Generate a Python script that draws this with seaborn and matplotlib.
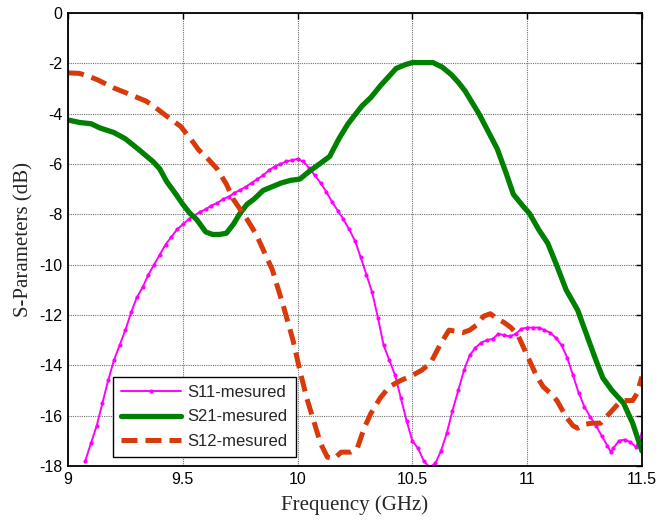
import numpy as np
import pandas as pd
import matplotlib
matplotlib.use("Agg")
import matplotlib.pyplot as plt
import seaborn as sns

# ---- data ----
s11_freq = [9.075, 9.100, 9.125, 9.150, 9.175, 9.200, 9.225, 9.250, 9.275, 9.300,
            9.325, 9.350, 9.375, 9.400, 9.425, 9.450, 9.475, 9.500, 9.525, 9.550,
            9.575, 9.600, 9.625, 9.650, 9.675, 9.700, 9.725, 9.750, 9.775, 9.800,
            9.825, 9.850, 9.875, 9.900, 9.925, 9.950, 9.975, 10.000, 10.025, 10.050,
            10.075, 10.100, 10.125, 10.150, 10.175, 10.200, 10.225, 10.250, 10.275, 10.300,
            10.325, 10.350, 10.375, 10.400, 10.425, 10.450, 10.475, 10.500, 10.525, 10.550,
            10.575, 10.600, 10.625, 10.650, 10.675, 10.700, 10.725, 10.750, 10.775, 10.800,
            10.825, 10.850, 10.875, 10.900, 10.925, 10.950, 10.975, 11.000, 11.025, 11.050,
            11.075, 11.100, 11.125, 11.150, 11.175, 11.200, 11.225, 11.250, 11.275, 11.300,
            11.325, 11.350, 11.365, 11.375, 11.400, 11.425, 11.450, 11.475, 11.500]
s11_db = [-17.8, -17.1, -16.4, -15.5, -14.6, -13.8, -13.2, -12.6, -11.9, -11.3,
          -10.9, -10.4, -10.0, -9.6, -9.2, -8.9, -8.6, -8.4, -8.2, -8.05,
          -7.9, -7.8, -7.65, -7.55, -7.4, -7.3, -7.15, -7.03, -6.9, -6.75,
          -6.6, -6.45, -6.25, -6.1, -6.0, -5.9, -5.85, -5.8, -5.9, -6.15,
          -6.45, -6.75, -7.1, -7.5, -7.85, -8.2, -8.6, -9.05, -9.7, -10.4,
          -11.1, -12.1, -13.2, -13.8, -14.4, -15.3, -16.2, -17.0, -17.3, -17.8,
          -18.05, -17.9, -17.4, -16.7, -15.8, -15.0, -14.2, -13.6, -13.3, -13.1,
          -13.0, -12.95, -12.75, -12.8, -12.85, -12.75, -12.55, -12.5, -12.5, -12.5,
          -12.6, -12.7, -12.9, -13.2, -13.7, -14.4, -15.1, -15.65, -16.05, -16.4,
          -16.8, -17.2, -17.45, -17.3, -17.0, -16.95, -17.05, -17.25, -16.7]

s21_freq = [9.0, 9.05, 9.1, 9.14, 9.2, 9.25, 9.31, 9.35, 9.37, 9.4,
            9.43, 9.47, 9.5, 9.53, 9.56, 9.6, 9.63, 9.66, 9.69, 9.72,
            9.75, 9.78, 9.81, 9.85, 9.89, 9.93, 9.97, 10.01, 10.05, 10.1,
            10.14, 10.18, 10.22, 10.25, 10.28, 10.32, 10.36, 10.4, 10.43, 10.47,
            10.5, 10.55, 10.59, 10.63, 10.67, 10.7, 10.73, 10.76, 10.79, 10.83,
            10.87, 10.91, 10.94, 10.98, 11.01, 11.05, 11.09, 11.13, 11.17, 11.22,
            11.26, 11.3, 11.33, 11.37, 11.42, 11.46, 11.5]
s21_db = [-4.25, -4.35, -4.4, -4.57, -4.75, -5.0, -5.44, -5.75, -5.9, -6.2,
          -6.7, -7.2, -7.6, -7.95, -8.2, -8.7, -8.8, -8.8, -8.75, -8.4,
          -7.95, -7.6, -7.4, -7.05, -6.9, -6.75, -6.65, -6.6, -6.3, -5.97,
          -5.7, -5.0, -4.4, -4.05, -3.7, -3.35, -2.9, -2.5, -2.2, -2.05,
          -1.97, -1.97, -1.97, -2.15, -2.45, -2.75, -3.1, -3.55, -4.0, -4.7,
          -5.4, -6.4, -7.2, -7.65, -7.96, -8.6, -9.15, -10.05, -11.0, -11.8,
          -12.8, -13.8, -14.5, -15.0, -15.5, -16.3, -17.4]

s12_freq = [9.0, 9.05, 9.1, 9.13, 9.2, 9.26, 9.3, 9.34, 9.38, 9.43,
            9.49, 9.53, 9.57, 9.61, 9.65, 9.69, 9.72, 9.78, 9.82, 9.85,
            9.89, 9.94, 9.98, 10.01, 10.04, 10.07, 10.1, 10.13, 10.16, 10.19,
            10.23, 10.26, 10.29, 10.32, 10.36, 10.4, 10.45, 10.5, 10.54, 10.58,
            10.62, 10.66, 10.69, 10.72, 10.75, 10.78, 10.81, 10.84, 10.87, 10.9,
            10.93, 10.96, 10.99, 11.01, 11.04, 11.07, 11.1, 11.13, 11.17, 11.2,
            11.22, 11.25, 11.28, 11.32, 11.35, 11.37, 11.4, 11.42, 11.46, 11.48,
            11.5]
s12_db = [-2.38, -2.4, -2.55, -2.66, -2.98, -3.2, -3.35, -3.5, -3.75, -4.1,
          -4.5, -4.95, -5.45, -5.8, -6.2, -6.8, -7.4, -8.2, -8.8, -9.4,
          -10.2, -11.7, -13.0, -14.2, -15.3, -16.2, -17.1, -17.65, -17.7, -17.45,
          -17.45, -17.3, -16.5, -15.9, -15.3, -14.85, -14.6, -14.4, -14.2, -13.9,
          -13.2, -12.6, -12.65, -12.7, -12.6, -12.4, -12.05, -11.95, -12.15, -12.3,
          -12.5, -12.8, -13.4, -13.8, -14.4, -14.85, -15.1, -15.4, -16.05, -16.4,
          -16.5, -16.35, -16.3, -16.3, -16.0, -15.8, -15.5, -15.4, -15.4, -15.1,
          -14.45]

x_ticks = [9, 9.5, 10, 10.5, 11, 11.5]
x_tick_labels = ["9", "9.5", "10", "10.5", "11", "11.5"]
y_ticks = [0, -2, -4, -6, -8, -10, -12, -14, -16, -18]

df11 = pd.DataFrame({"f": s11_freq, "db": s11_db})
df21 = pd.DataFrame({"f": s21_freq, "db": s21_db})
df12 = pd.DataFrame({"f": s12_freq, "db": s12_db})

sns.set_style("white")
plt.rcParams["font.family"] = ["Liberation Sans", "DejaVu Sans"]
plt.rcParams["axes.unicode_minus"] = False

fig = plt.figure(figsize=(6.59, 5.22), dpi=100)
ax = fig.add_axes([0.1032, 0.1073, 0.8708, 0.8678])

sns.lineplot(data=df11, x="f", y="db", ax=ax, color="#FF00FF", lw=1.4,
             marker="o", markersize=3, markeredgewidth=0, label="S11-mesured",
             sort=False, estimator=None)
sns.lineplot(data=df21, x="f", y="db", ax=ax, color="#008000", lw=3.8,
             label="S21-mesured", sort=False, estimator=None)
sns.lineplot(data=df12, x="f", y="db", ax=ax, color="#D93A0A", lw=3.6,
             label="S12-mesured", sort=False, estimator=None)
ax.lines[-1].set_dashes((3.2, 1.6))

ax.set_xlim(9, 11.5)
ax.set_ylim(-18, 0)
ax.set_xticks(x_ticks)
ax.set_xticklabels(x_tick_labels)
ax.set_yticks(y_ticks)
ax.tick_params(direction="in", length=4, width=1, labelsize=11.5,
               top=True, right=True, colors="black", pad=4)
ax.grid(True, linestyle=(0, (1, 1)), color="#707070", lw=0.8)
for sp in ax.spines.values():
    sp.set_color("black")
    sp.set_linewidth(1.3)
    sp.set_visible(True)

ax.set_xlabel("Frequency (GHz)", family=["Liberation Serif", "DejaVu Serif"],
              fontsize=15, labelpad=6)
ax.set_ylabel("S-Parameters (dB)", family=["Liberation Serif", "DejaVu Serif"],
              fontsize=15, labelpad=4)

leg = ax.legend(loc="lower left", bbox_to_anchor=(0.078, 0.02), fontsize=12,
                frameon=True, fancybox=False, borderaxespad=0,
                handlelength=3.6, labelspacing=0.55, borderpad=0.5,
                handletextpad=0.4)
leg.get_frame().set_edgecolor("black")
leg.get_frame().set_linewidth(1.0)
leg.get_frame().set_alpha(1)

fig.savefig("out.png", dpi=100, facecolor="white")
